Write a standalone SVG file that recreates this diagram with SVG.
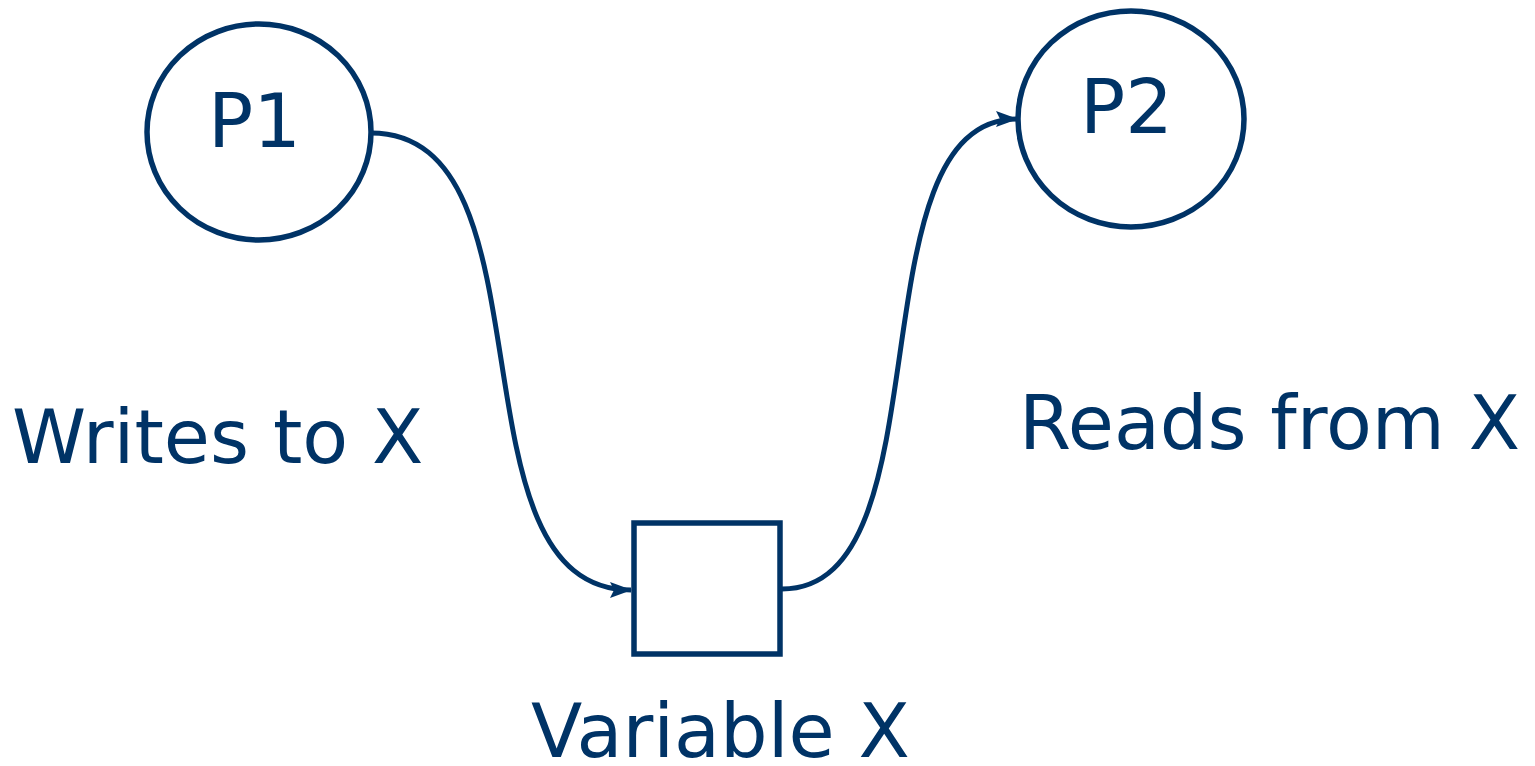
<svg xmlns="http://www.w3.org/2000/svg" width="1535" height="766" viewBox="0 0 1535 766">
<style>
.shape{fill:#fff;stroke:#003366;stroke-width:5.5}
.edge{fill:none;stroke:#003366;stroke-width:5}
text{font-family:"DejaVu Sans",Verdana,sans-serif;font-size:75px;fill:#003366}
</style>
<defs>
<marker id="arr" viewBox="0 0 22 16" refX="21" refY="8" markerWidth="22" markerHeight="16" markerUnits="userSpaceOnUse" orient="auto">
<path d="M0,0 L22,8 L0,16 L4,8 Z" fill="#003366"/>
</marker>
</defs>
<rect width="1535" height="766" fill="#fff"/>
<g id="edges">
<path class="edge" d="M371,133 C560,133 443,590 631,590" marker-end="url(#arr)"/>
<path class="edge" d="M782,589 C950,589 850,119 1017,119" marker-end="url(#arr)"/>
</g>
<g id="P1">
<ellipse class="shape" cx="259" cy="132" rx="112" ry="108"/>
<text x="208" y="147">P1</text>
</g>
<g id="P2">
<ellipse class="shape" cx="1131" cy="119" rx="113" ry="108"/>
<text x="1080" y="133">P2</text>
</g>
<g id="varX">
<rect class="shape" x="634" y="523" width="146" height="131"/>
</g>
<g id="labels">
<text x="12" y="463">Writes to X</text>
<text x="1019" y="449">Reads from X</text>
<text x="531" y="757">Variable X</text>
</g>
</svg>
